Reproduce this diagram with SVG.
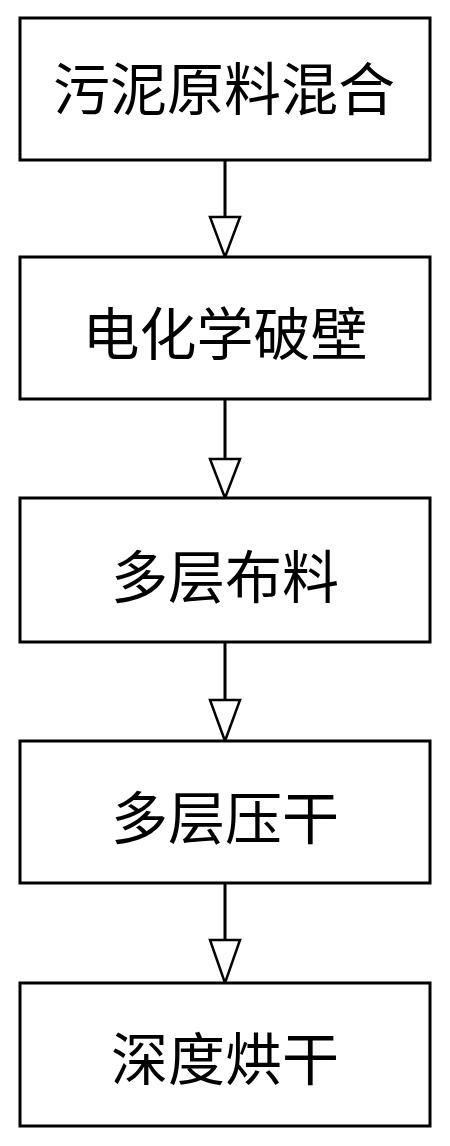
<svg xmlns="http://www.w3.org/2000/svg" width="450" height="1146" viewBox="0 0 450 1146">
<style>
.box{fill:#fff;stroke:#000;stroke-width:3}
.lbl{font-family:"Noto Sans CJK SC","Noto Sans CJK JP",sans-serif;font-size:57px;fill:#000;text-anchor:middle;dominant-baseline:central}
.ln{stroke:#000;stroke-width:3;fill:none}
.hd{fill:#fff;stroke:#000;stroke-width:2.5;stroke-linejoin:miter}
</style>
<rect width="450" height="1146" fill="#fff"/>
<g id="connectors">
<line class="ln" x1="225" y1="160" x2="225" y2="217"/>
<polygon class="hd" points="210,217 240,217 225,257"/>
<line class="ln" x1="225" y1="399" x2="225" y2="459"/>
<polygon class="hd" points="210,459 240,459 225,498"/>
<line class="ln" x1="225" y1="642" x2="225" y2="700"/>
<polygon class="hd" points="210,700 240,700 225,741"/>
<line class="ln" x1="225" y1="883" x2="225" y2="940"/>
<polygon class="hd" points="210,940 240,940 225,983"/>
</g>
<g id="n1"><rect class="box" x="20" y="18" width="410" height="142"/><text class="lbl" x="224" y="85">污泥原料混合</text></g>
<g id="n2"><rect class="box" x="20" y="257" width="410" height="142"/><text class="lbl" x="225" y="330">电化学破壁</text></g>
<g id="n3"><rect class="box" x="20" y="498" width="410" height="144"/><text class="lbl" x="225" y="573">多层布料</text></g>
<g id="n4"><rect class="box" x="20" y="741" width="410" height="142"/><text class="lbl" x="225" y="814">多层压干</text></g>
<g id="n5"><rect class="box" x="20" y="983" width="410" height="143"/><text class="lbl" x="225" y="1055">深度烘干</text></g>
</svg>
